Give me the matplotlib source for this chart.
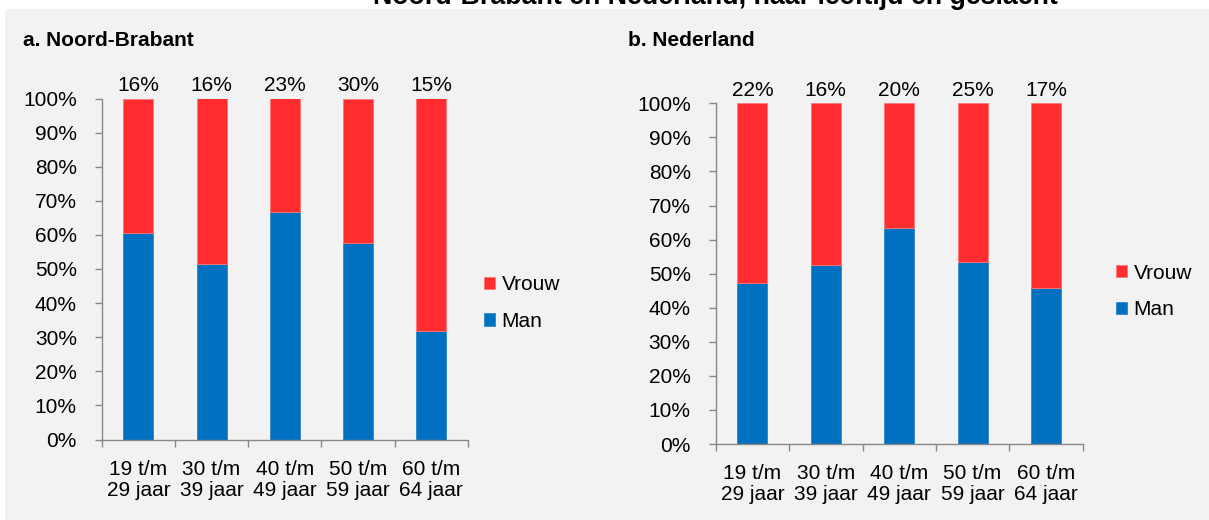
import numpy as np
import matplotlib.pyplot as plt
from matplotlib.patches import Rectangle

plt.rcParams['font.family'] = ['Liberation Sans', 'DejaVu Sans']

# ---------------------------------------------------------------
# Data
# ---------------------------------------------------------------
leeftijd = ["19 t/m\n29 jaar", "30 t/m\n39 jaar", "40 t/m\n49 jaar",
            "50 t/m\n59 jaar", "60 t/m\n64 jaar"]

man_nb = [60.5, 51.5, 66.8, 57.7, 31.7]        # Noord-Brabant, aandeel man [%]
man_nl = [47.2, 52.5, 63.3, 53.4, 45.7]        # Nederland, aandeel man [%]
vrouw_nb = [100 - v for v in man_nb]
vrouw_nl = [100 - v for v in man_nl]

label_nb = ["16%", "16%", "23%", "30%", "15%"]
label_nl = ["22%", "16%", "20%", "25%", "17%"]

titel = "Noord-Brabant en Nederland, naar leeftijd en geslacht"

# ---------------------------------------------------------------
# Style
# ---------------------------------------------------------------
BLAUW = "#0070c0"
ROOD = "#ff2d30"
AS = "#878787"
FS = 15

W, H = 1209, 520
fig = plt.figure(figsize=(W / 100, H / 100), dpi=100)
fig.patch.set_facecolor("white")
fig.patches.append(Rectangle((5 / W, 0), 1, 1 - 9 / H, transform=fig.transFigure,
                             facecolor="#f2f2f2", edgecolor="none", zorder=-10))

# main title, partly above the top edge
fig.text(715.5 / W, 1 - 4 / H, titel, ha="center", va="baseline",
         fontsize=19.3, fontweight="bold")


def panel(rect, man, vrouw, labels, kop, kop_xy, leg_xy):
    ax = fig.add_axes(rect)
    ax.set_facecolor("none")
    x = np.arange(len(man)) + 0.5
    ax.bar(x, man, width=0.41, color=BLAUW, edgecolor="#2f86cc", lw=0.6, label="Man")
    ax.bar(x, vrouw, bottom=man, width=0.41, color=ROOD, edgecolor="#ff7878",
           lw=0.6, label="Vrouw")
    for xi, t in zip(x, labels):
        ax.text(xi, 101, t, ha="center", va="bottom", fontsize=FS)

    ax.set_xlim(0, len(man))
    ax.set_ylim(0, 100)
    ax.set_yticks(np.arange(0, 101, 10))
    ax.set_yticklabels([f"{v}%" for v in range(0, 101, 10)])
    ax.set_xticks(np.arange(0, len(man) + 1))
    ax.set_xticklabels([])
    ax.set_xticks(x, minor=True)
    ax.set_xticklabels(leeftijd, minor=True, linespacing=1.15)
    ax.tick_params(axis="x", which="minor", length=0, pad=14.5, labelsize=FS)
    ax.tick_params(axis="x", which="major", length=5, color=AS, width=1)
    ax.tick_params(axis="y", length=5, color=AS, width=1, pad=13, labelsize=FS)
    for s in ("top", "right"):
        ax.spines[s].set_visible(False)
    for s in ("left", "bottom"):
        ax.spines[s].set_color(AS)
        ax.spines[s].set_linewidth(1)

    h, l = ax.get_legend_handles_labels()
    ax.legend(h[::-1], l[::-1], loc="center left", bbox_to_anchor=leg_xy,
              frameon=False, fontsize=FS, handlelength=0.55, handleheight=0.55,
              handletextpad=0.3, labelspacing=0.85, borderpad=0, borderaxespad=0)

    fig.text(kop_xy[0] / W, 1 - kop_xy[1] / H, kop, ha="left", va="center",
             fontsize=FS, fontweight="bold")
    return ax


panel([101.8 / W, 1 - 439.5 / H, 365.9 / W, 341 / H], man_nb, vrouw_nb, label_nb,
      "a. Noord-Brabant", (23, 41), (1.044, 0.40))
panel([715.7 / W, 1 - 444 / H, 367 / W, 340.7 / H], man_nl, vrouw_nl, label_nl,
      "b. Nederland", (628, 41), (1.09, 0.448))

fig.savefig("out.png", dpi=100)
